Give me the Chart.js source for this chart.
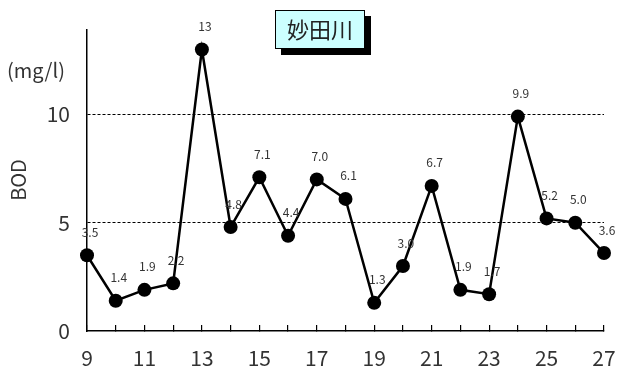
<!DOCTYPE html>
<html>
<head>
<meta charset="utf-8">
<script src="https://cdn.jsdelivr.net/npm/chart.js@4/dist/chart.umd.min.js"></script>
<style>
  html, body { margin: 0; padding: 0; background: #fff; }
  #wrap { width: 624px; height: 367px; }
</style>
</head>
<body>
<div id="wrap"><canvas id="bodChart" width="624" height="367"></canvas></div>
<script>
// data
const days = ['9', '10', '11', '12', '13', '14', '15', '16', '17', '18', '19', '20', '21', '22', '23', '24', '25', '26', '27'];
const bodValues = [3.5, 1.4, 1.9, 2.2, 13, 4.8, 7.1, 4.4, 7.0, 6.1, 1.3, 3.0, 6.7, 1.9, 1.7, 9.9, 5.2, 5.0, 3.6];
const bodLabels = ['3.5', '1.4', '1.9', '2.2', '13', '4.8', '7.1', '4.4', '7.0', '6.1', '1.3', '3.0', '6.7', '1.9', '1.7', '9.9', '5.2', '5.0', '3.6'];
const yTicks = [0, 5, 10];

const chartTitle = '妙田川';
const unitText = '(mg/l)';
const axisTitle = 'BOD';

const fontFamily = "'Noto Sans CJK JP', 'DejaVu Sans', sans-serif";

// title box, unit text, axis title and value labels
const decorPlugin = {
    id: 'decor',
    afterDatasetsDraw(chart) {
        const ctx = chart.ctx;
        ctx.save();

        // value labels above points
        const meta = chart.getDatasetMeta(0);
        ctx.font = '12px ' + fontFamily;
        ctx.fillStyle = '#333';
        ctx.textAlign = 'center';
        ctx.textBaseline = 'middle';
        meta.data.forEach((pt, i) => {
            ctx.fillText(bodLabels[i], pt.x + 3, pt.y - 23);
        });

        // title box with shadow
        ctx.fillStyle = '#000';
        ctx.fillRect(281, 16, 90, 39);
        ctx.fillStyle = '#ccffff';
        ctx.fillRect(275, 10, 90, 39);
        ctx.strokeStyle = '#000';
        ctx.lineWidth = 1;
        ctx.strokeRect(275.5, 10.5, 89, 38);
        ctx.fillStyle = '#222';
        ctx.font = '22px ' + fontFamily;
        ctx.fillText(chartTitle, 320, 30);

        // unit
        ctx.font = '20px ' + fontFamily;
        ctx.fillStyle = '#333';
        ctx.textAlign = 'left';
        ctx.fillText(unitText, 7, 70);

        // axis title
        ctx.translate(18, 180);
        ctx.rotate(-Math.PI / 2);
        ctx.textAlign = 'center';
        ctx.fillText(axisTitle, 0, 0);
        ctx.restore();
    }
};

new Chart(document.getElementById('bodChart'), {
    type: 'line',
    data: {
        labels: days,
        datasets: [{
            data: bodValues,
            borderColor: '#000',
            borderWidth: 2.5,
            backgroundColor: '#000',
            pointRadius: 7,
            pointBackgroundColor: '#000',
            pointBorderWidth: 0,
            tension: 0
        }]
    },
    options: {
        responsive: false,
        animation: false,
        layout: { padding: { top: 30, right: 20, left: 0, bottom: 0 } },
        plugins: {
            legend: { display: false },
            tooltip: { enabled: false }
        },
        scales: {
            x: {
                type: 'category',
                offset: false,
                grid: {
                    drawOnChartArea: false,
                    drawTicks: true,
                    tickLength: -6,
                    color: '#000',
                    lineWidth: 1.2
                },
                border: { color: '#000', width: 1.5 },
                ticks: {
                    autoSkip: false,
                    maxRotation: 0,
                    padding: 20,
                    color: '#333',
                    font: { size: 21, family: fontFamily },
                    callback: (val, i) => (Number(days[i]) % 2 === 1 ? days[i] : '')
                },
                afterFit: scale => {
                    scale.height = 36;
                    scale.paddingLeft = 0;
                    scale.paddingRight = 0;
                }
            },
            y: {
                min: 0,
                max: 13.9,
                afterBuildTicks: scale => {
                    scale.ticks = yTicks.map(v => ({ value: v }));
                },
                grid: {
                    drawTicks: false,
                    color: ctx => (ctx.tick && ctx.tick.value === 0 ? 'rgba(0,0,0,0)' : '#000'),
                    lineWidth: 1
                },
                border: { color: '#000', width: 1.5, dash: [3, 2], dashOffset: 0 },
                ticks: {
                    padding: 17,
                    color: '#333',
                    font: { size: 21, family: fontFamily }
                },
                afterFit: scale => { scale.width = 87; }
            }
        }
    },
    plugins: [decorPlugin]
});
</script>
</body>
</html>
